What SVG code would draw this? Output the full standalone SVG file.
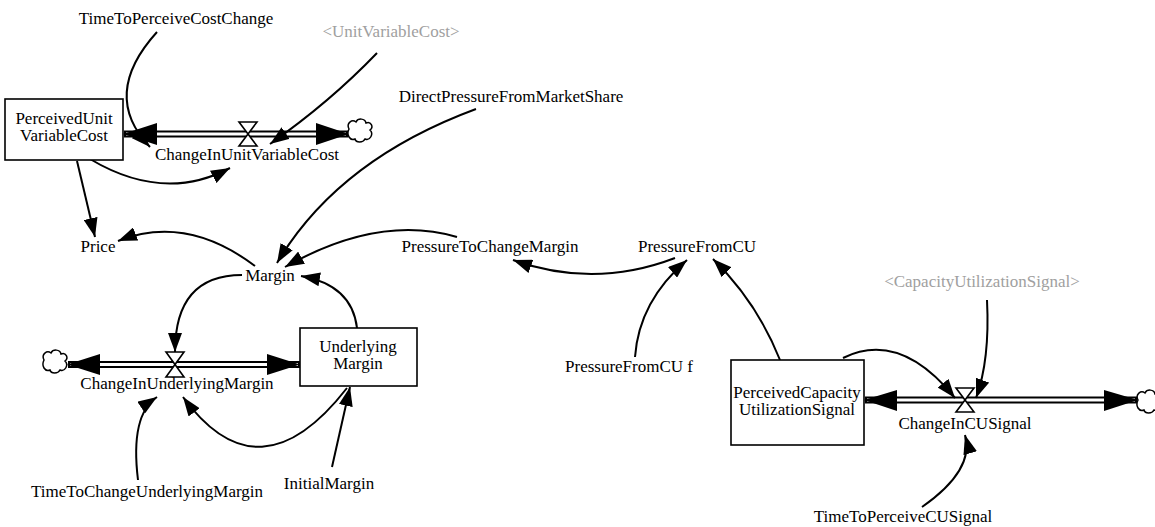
<svg xmlns="http://www.w3.org/2000/svg" width="1155" height="527" viewBox="0 0 1155 527">
<defs>
<style>
.t{font-family:"Liberation Serif","Times New Roman",serif;font-size:17px;fill:#000;text-anchor:middle}
.g{fill:#a0a0a0}
.box{fill:#fff;stroke:#000;stroke-width:1.6}
.c{fill:none;stroke:#000;stroke-width:2;marker-end:url(#ah)}
.po{stroke:#000;stroke-width:7;fill:none}
.pi{stroke:#fff;stroke-width:3.2;fill:none}
.fa{fill:#000}
.valve{fill:#fff;stroke:#000;stroke-width:1.6;stroke-linejoin:miter}
.cloud{fill:#fff;stroke:#000;stroke-width:1.5}
</style>
<marker id="ah" markerWidth="20" markerHeight="14" refX="19" refY="7" orient="auto" markerUnits="userSpaceOnUse">
<path d="M0,0 L19,7 L0,14 z" fill="#000"/>
</marker>
<path id="cloudp" d="M-11,-2 C-14,-8 -8,-12 -4,-9 C-2,-13 5,-13 6,-8 C11,-10 14,-4 10,-1 C14,3 10,10 5,8 C3,12 -4,12 -5,8 C-10,10 -14,4 -11,-2 Z"/>
</defs>

<!-- flows (pipes) -->
<g id="flow_ChangeInUnitVariableCost">
<line class="po" x1="124" y1="134" x2="348" y2="134"/>
<line class="pi" x1="126" y1="134" x2="346" y2="134"/>
<polygon class="fa" points="123,134 157,123 157,145"/>
<polygon class="fa" points="349,134 316,123 316,145"/>
<polygon class="valve" points="239,122 257,122 239,146 257,146"/>
<text class="t" x="247" y="160">ChangeInUnitVariableCost</text>
</g>
<g id="cloud_top"><use href="#cloudp" class="cloud" transform="translate(360,131)"/></g>

<g id="flow_ChangeInUnderlyingMargin">
<line class="po" x1="68" y1="364.5" x2="300" y2="364.5"/>
<line class="pi" x1="70" y1="364.5" x2="298" y2="364.5"/>
<polygon class="fa" points="67,364.5 100,354 100,375"/>
<polygon class="fa" points="300,364.5 267,354 267,375"/>
<polygon class="valve" points="166,352 184,352 166,377 184,377"/>
<text class="t" x="177" y="389">ChangeInUnderlyingMargin</text>
</g>
<g id="cloud_left"><use href="#cloudp" class="cloud" transform="translate(55,362)"/></g>

<g id="flow_ChangeInCUSignal">
<line class="po" x1="865" y1="400" x2="1137" y2="400"/>
<line class="pi" x1="867" y1="400" x2="1135" y2="400"/>
<polygon class="fa" points="864,400 897,390 897,411"/>
<polygon class="fa" points="1138,400 1104,390 1104,411"/>
<polygon class="valve" points="956,388 974,388 956,412 974,412"/>
<text class="t" x="965" y="429">ChangeInCUSignal</text>
</g>
<g id="cloud_right"><use href="#cloudp" class="cloud" transform="translate(1149,402)"/></g>

<!-- connectors -->
<g id="connectors">
<path class="c" d="M157,32 Q100,95 150,147"/>
<path class="c" d="M377,53 Q330,102 270,144"/>
<path class="c" d="M90,159 Q164,203 230,168"/>
<path class="c" d="M77,161 L95,237"/>
<path class="c" d="M255,266 Q186,214 118,241"/>
<path class="c" d="M476,109 Q338,160 277,263"/>
<path class="c" d="M457,237 Q379,214 285,267"/>
<path class="c" d="M675,258 Q594,289 513,260"/>
<path class="c" d="M635,357 Q639,301 687,260"/>
<path class="c" d="M780,360 Q757,302 713,259"/>
<path class="c" d="M987,300 Q990,360 976,398"/>
<path class="c" d="M843,358 Q900,330 955,398"/>
<path class="c" d="M922,507 Q975,470 965,435"/>
<path class="c" d="M242,275 Q175,275 175,352"/>
<path class="c" d="M357,328 Q352,285 301,276"/>
<path class="c" d="M138,480 Q130,415 157,397"/>
<path class="c" d="M347,388 Q259,501 183,397"/>
<path class="c" d="M332,467 L350,387"/>
</g>

<!-- nodes -->
<g id="node_PerceivedUnitVariableCost">
<rect class="box" x="5" y="99" width="118" height="61"/>
<text class="t" x="64" y="124">PerceivedUnit</text>
<text class="t" x="64" y="141">VariableCost</text>
</g>
<g id="node_TimeToPerceiveCostChange"><text class="t" x="176" y="24">TimeToPerceiveCostChange</text></g>
<g id="node_UnitVariableCost"><text class="t g" x="391" y="37">&lt;UnitVariableCost&gt;</text></g>
<g id="node_DirectPressureFromMarketShare"><text class="t" x="511" y="102">DirectPressureFromMarketShare</text></g>
<g id="node_Price"><text class="t" x="98" y="252">Price</text></g>
<g id="node_Margin"><text class="t" x="270" y="281">Margin</text></g>
<g id="node_PressureToChangeMargin"><text class="t" x="490" y="252">PressureToChangeMargin</text></g>
<g id="node_PressureFromCU"><text class="t" x="697" y="252">PressureFromCU</text></g>
<g id="node_PressureFromCUf"><text class="t" x="629" y="372">PressureFromCU f</text></g>
<g id="node_UnderlyingMargin">
<rect class="box" x="300" y="328" width="117" height="58"/>
<text class="t" x="358" y="352">Underlying</text>
<text class="t" x="358" y="369">Margin</text>
</g>
<g id="node_TimeToChangeUnderlyingMargin"><text class="t" x="147" y="497">TimeToChangeUnderlyingMargin</text></g>
<g id="node_InitialMargin"><text class="t" x="329" y="489">InitialMargin</text></g>
<g id="node_PerceivedCapacityUtilizationSignal">
<rect class="box" x="731" y="360" width="133" height="85"/>
<text class="t" x="797" y="398">PerceivedCapacity</text>
<text class="t" x="797" y="415">UtilizationSignal</text>
</g>
<g id="node_CapacityUtilizationSignal"><text class="t g" x="982" y="287">&lt;CapacityUtilizationSignal&gt;</text></g>
<g id="node_TimeToPerceiveCUSignal"><text class="t" x="903" y="522">TimeToPerceiveCUSignal</text></g>
</svg>
